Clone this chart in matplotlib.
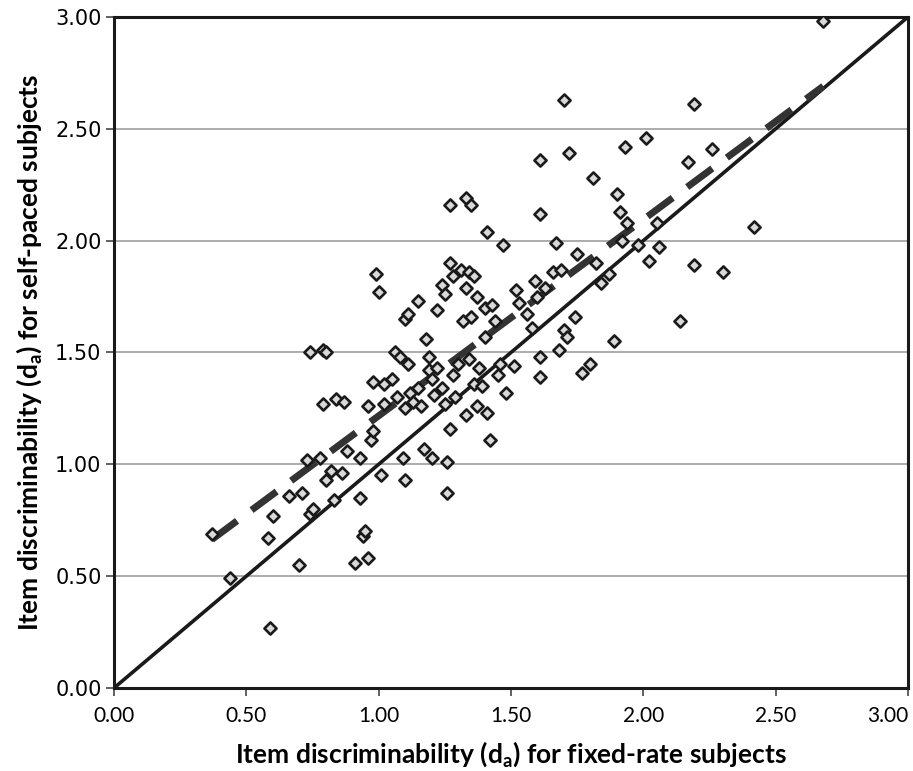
import matplotlib
matplotlib.use("Agg")
import matplotlib.pyplot as plt
import numpy as np

# d_a dos itens: sujeitos com ritmo fixo (x) e ritmo próprio (y)
fixed_rate = [
    0.37, 0.44, 0.59, 0.58, 0.60, 0.66, 0.70, 0.71, 0.73, 0.74,
    0.75, 0.74, 0.79, 0.80, 0.79, 0.78, 0.80, 0.82, 0.83, 0.84,
    0.86, 0.87, 0.88, 0.91, 0.93, 0.93, 0.94, 0.95, 0.96, 0.96,
    0.97, 0.98, 0.98, 0.99, 1.00, 1.01, 1.02, 1.02, 1.05, 1.06,
    1.07, 1.08, 1.09, 1.10, 1.10, 1.10, 1.11, 1.11, 1.12, 1.13,
    1.15, 1.15, 1.16, 1.17, 1.18, 1.19, 1.19, 1.20, 1.20, 1.21,
    1.22, 1.22, 1.24, 1.24, 1.25, 1.25, 1.26, 1.26, 1.27, 1.27,
    1.27, 1.28, 1.28, 1.29, 1.30, 1.31, 1.32, 1.33, 1.33, 1.33,
    1.34, 1.34, 1.35, 1.35, 1.36, 1.36, 1.37, 1.37, 1.38, 1.39,
    1.40, 1.40, 1.41, 1.41, 1.42, 1.43, 1.44, 1.45, 1.46, 1.47,
    1.48, 1.51, 1.52, 1.53, 1.56, 1.58, 1.59, 1.60, 1.61, 1.61,
    1.61, 1.61, 1.63, 1.66, 1.67, 1.68, 1.69, 1.70, 1.70, 1.71,
    1.72, 1.74, 1.75, 1.77, 1.80, 1.81, 1.82, 1.84, 1.87, 1.89,
    1.90, 1.91, 1.92, 1.93, 1.94, 1.98, 2.01, 2.02, 2.05, 2.06,
    2.14, 2.17, 2.19, 2.19, 2.26, 2.30, 2.42, 2.68,
]
self_paced = [
    0.69, 0.49, 0.27, 0.67, 0.77, 0.86, 0.55, 0.87, 1.02, 0.78,
    0.80, 1.50, 1.51, 1.50, 1.27, 1.03, 0.93, 0.97, 0.84, 1.29,
    0.96, 1.28, 1.06, 0.56, 0.85, 1.03, 0.68, 0.70, 0.58, 1.26,
    1.11, 1.15, 1.37, 1.85, 1.77, 0.95, 1.27, 1.36, 1.38, 1.50,
    1.30, 1.48, 1.03, 0.93, 1.25, 1.65, 1.67, 1.45, 1.32, 1.28,
    1.73, 1.34, 1.26, 1.07, 1.56, 1.42, 1.48, 1.38, 1.03, 1.31,
    1.43, 1.69, 1.34, 1.80, 1.76, 1.27, 1.01, 0.87, 1.16, 1.90,
    2.16, 1.84, 1.40, 1.30, 1.45, 1.87, 1.64, 1.79, 1.22, 2.19,
    1.86, 1.47, 2.16, 1.66, 1.36, 1.84, 1.75, 1.26, 1.43, 1.35,
    1.57, 1.70, 2.04, 1.23, 1.11, 1.71, 1.64, 1.40, 1.45, 1.98,
    1.32, 1.44, 1.78, 1.72, 1.67, 1.61, 1.82, 1.75, 1.39, 2.12,
    2.36, 1.48, 1.79, 1.86, 1.99, 1.51, 1.87, 1.60, 2.63, 1.57,
    2.39, 1.66, 1.94, 1.41, 1.45, 2.28, 1.90, 1.81, 1.85, 1.55,
    2.21, 2.13, 2.00, 2.42, 2.08, 1.98, 2.46, 1.91, 2.08, 1.97,
    1.64, 2.35, 2.61, 1.89, 2.41, 1.86, 2.06, 2.98,
]
ticks = [0.0, 0.5, 1.0, 1.5, 2.0, 2.5, 3.0]

x = np.array(fixed_rate)
y = np.array(self_paced)

fig = plt.figure(figsize=(9.13, 7.71), dpi=100)
ax = fig.add_axes([0.1249, 0.1077, 0.8696, 0.8703])

# linhas de grade horizontais
for t in ticks[1:-1]:
    ax.axhline(t, color="#a6a6a6", linewidth=1.3, zorder=0)

# diagonal y = x
ax.plot([0, 3], [0, 3], color="#1a1a1a", linewidth=2.6, zorder=2)

# reta de tendência (mínimos quadrados)
a, b = np.polyfit(x, y, 1)
xs = np.array([x.min(), x.max()])
ax.plot(xs, a * xs + b, color="#333333", linewidth=5, dashes=(4.5, 2.6), zorder=3)

ax.scatter(x, y, marker="D", s=38, facecolor="#d9d9d9", edgecolor="#1a1a1a",
           linewidths=1.9, zorder=4)

ax.set_xlim(0, 3)
ax.set_ylim(0, 3)
ax.set_xticks(ticks)
ax.set_yticks(ticks)
ax.set_xticklabels([f"{t:.2f}" for t in ticks], family="Lato", fontsize=15)
ax.set_yticklabels([f"{t:.2f}" for t in ticks], family="DejaVu Sans", fontsize=15)
# último rótulo do eixo x encostado à direita para não ser cortado
ax.get_xticklabels()[-1].set_horizontalalignment("right")
ax.tick_params(direction="out", length=6, width=1.3, color="#555555", pad=3)
ax.tick_params(axis="x", pad=7)
for s in ax.spines.values():
    s.set_linewidth(2.2)
    s.set_color("#1a1a1a")

ax.set_xlabel(r"Item discriminability (d$_\mathregular{a}$) for fixed-rate subjects",
              family="Lato", fontweight="bold", fontsize=19, labelpad=9)
ax.set_ylabel(r"Item discriminability (d$_\mathregular{a}$) for self-paced subjects",
              family="Lato", fontweight="bold", fontsize=19, labelpad=8)

fig.savefig("out.png", dpi=100)
